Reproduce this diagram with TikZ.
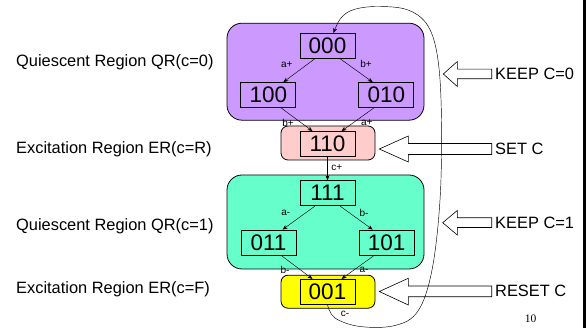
\documentclass[tikz,border=0pt]{standalone}
\usepackage{fontspec}
\setmainfont{Liberation Sans}
\newfontfamily\pagenumfont{Liberation Serif}
\usetikzlibrary{arrows.meta}
\definecolor{qrzero}{HTML}{CC99FF}
\definecolor{erup}{HTML}{FFCCCC}
\definecolor{qrone}{HTML}{66FFCC}
\definecolor{erdown}{HTML}{FFFF00}
\tikzset{
  region/.style={draw=black, line width=0.8pt, inner sep=0pt},
  bigregion/.style={region, rounded corners=15pt, minimum width=197pt, minimum height=96pt},
  smallregion/.style={region, rounded corners=7pt, minimum width=94pt, minimum height=34pt},
  state/.style={draw=black, line width=0.7pt, inner sep=0pt, minimum width=55pt, minimum height=25pt,
    font=\fontsize{22.5}{26}\selectfont},
  trans/.style={line width=0.45pt, -{Stealth[length=5pt,width=4pt]}},
  tlabel/.style={inner sep=0pt, font=\fontsize{10}{12}\selectfont},
  sidelabel/.style={anchor=west, inner sep=0pt, font=\fontsize{16.4}{19}\selectfont},
  bigarrow/.style={draw=black, fill=white, line width=0.6pt},
}
\begin{document}
\begin{tikzpicture}[x=1pt,y=-1pt]
\useasboundingbox (0,0) rectangle (587,328);

% regions
\node[bigregion, fill=qrzero, minimum height=97pt] (qr0) at (325.5,71.7) {};
\node[smallregion, fill=erup] (er1) at (328,143) {};
\node[bigregion, fill=qrone, minimum height=94pt] (qr1) at (325.5,222) {};
\node[smallregion, fill=erdown, minimum height=33pt] (er0) at (328,291.7) {};

% states
\node[state] (s000) at (327.5,45.8) {000};
\node[state] (s100) at (268.3,95) {100};
\node[state] (s010) at (386.3,95) {010};
\node[state] (s110) at (327.5,144) {110};
\node[state] (s111) at (327.5,193.2) {111};
\node[state] (s011) at (268.5,242.5) {011};
\node[state] (s101) at (386.7,242.5) {101};
\node[state] (s001) at (327.5,291.8) {001};

% transitions
\draw[trans] ([xshift=-12.5pt]s000.south) -- ([xshift=15pt]s100.north);
\draw[trans] ([xshift=12.5pt]s000.south) -- ([xshift=-13.6pt]s010.north);
\draw[trans] ([xshift=12.7pt]s100.south) -- ([xshift=-15pt]s110.north);
\draw[trans] ([xshift=-12.3pt]s010.south) -- ([xshift=14pt]s110.north);
\draw[trans] (s110.south) -- (s111.north);
\draw[trans] ([xshift=-12.5pt]s111.south) -- ([xshift=14pt]s011.north);
\draw[trans] ([xshift=12.5pt]s111.south) -- ([xshift=-14pt]s101.north);
\draw[trans] ([xshift=12.5pt]s011.south) -- ([xshift=-15pt]s001.north);
\draw[trans] ([xshift=-12.4pt]s101.south) -- ([xshift=14pt]s001.north);

% transition labels
\node[tlabel] (l1) at (286.7,64.3) {a+};
\node[tlabel] (l2) at (366,64.3) {b+};
\node[tlabel] (l3) at (288,122.5) {b+};
\node[tlabel] (l4) at (366.7,122.5) {a+};
\node[tlabel] (l5) at (336.7,167.3) {c+};
\node[tlabel] (l6) at (285.7,212.7) {a-};
\node[tlabel] (l7) at (364,212.7) {b-};
\node[tlabel] (l8) at (285,270) {b-};
\node[tlabel] (l9) at (364,270) {a-};
\node[tlabel] (l10) at (345,314.3) {c-};

% region annotations on the left
\node[sidelabel] (t1) at (16,62.7) {Quiescent Region QR(c=0)};
\node[sidelabel] (t2) at (16,149.3) {Excitation Region ER(c=R)};
\node[sidelabel] (t3) at (16,226.7) {Quiescent Region QR(c=1)};
\node[sidelabel] (t4) at (16,289.3) {Excitation Region ER(c=F)};

% hollow block arrows with actions
\draw[bigarrow] (443.3,74) -- (457.3,61.5) -- (457.3,69.2) -- (491.7,69.2) -- (491.7,78.8) -- (457.3,78.8) -- (457.3,86.5) -- cycle;
\draw[bigarrow] (379.3,149) -- (408.3,136) -- (408.3,143.5) -- (491.7,143.5) -- (491.7,154.5) -- (408.3,154.5) -- (408.3,162) -- cycle;
\draw[bigarrow] (442.7,222.7) -- (457.3,210.5) -- (457.3,217.8) -- (491.7,217.8) -- (491.7,227.5) -- (457.3,227.5) -- (457.3,235) -- cycle;
\draw[bigarrow] (379.3,291.5) -- (408.3,278.3) -- (408.3,286) -- (491.7,286) -- (491.7,296.8) -- (408.3,296.8) -- (408.3,305) -- cycle;
\node[sidelabel] (k0) at (495,74) {KEEP C=0};
\node[sidelabel] (sc) at (495,149) {SET C};
\node[sidelabel] (k1) at (495,222.7) {KEEP C=1};
\node[sidelabel] (rc) at (495,291.3) {RESET C};

% return transition c- from 001 back to 000
\draw[trans] plot[smooth, tension=0.6] coordinates {
  (s001.south) (335,318) (360,326.5) (395,325.5) (418,311) (432,270)
  (440,200) (441.5,120) (438,60) (428,26) (408,10) (378,6.5) (354,9.5)
  (341,18) ([xshift=6pt]s000.north)};

% page number and frame edge
\node[inner sep=0pt, font=\pagenumfont\fontsize{11.5}{13}\selectfont] (pg) at (530.5,318.3) {10};
\fill[black] (583.3,0) rectangle (585.7,328);
\end{tikzpicture}
\end{document}
